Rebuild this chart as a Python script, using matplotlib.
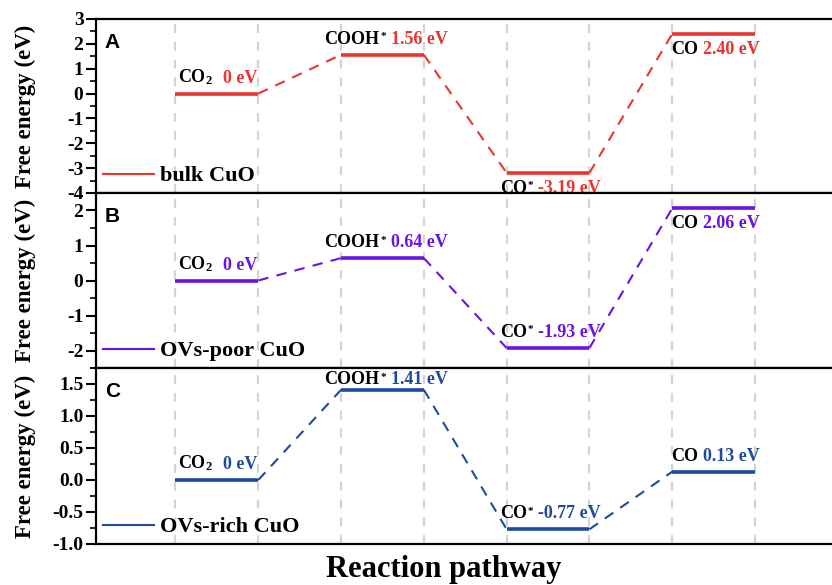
import numpy as np
import matplotlib
matplotlib.use("Agg")
import matplotlib.pyplot as plt
from matplotlib.ticker import AutoMinorLocator, FormatStrFormatter

plt.rcParams['font.family'] = ['Liberation Serif', 'DejaVu Serif']
plt.rcParams['font.weight'] = 'bold'
plt.rcParams['axes.unicode_minus'] = False
plt.rcParams['mathtext.fontset'] = 'custom'
plt.rcParams['mathtext.rm'] = 'Liberation Serif:bold'
plt.rcParams['mathtext.bf'] = 'Liberation Serif:bold'
plt.rcParams['mathtext.it'] = 'Liberation Serif:bold'
plt.rcParams['mathtext.default'] = 'rm'

# data
species = ['CO$_2$', 'COOH', 'CO', 'CO']
star = [False, True, True, False]
level_start = [1, 3, 5, 7]
energy_A = [0, 1.56, -3.19, 2.40]
energy_B = [0, 0.64, -1.93, 2.06]
energy_C = [0, 1.41, -0.77, 0.13]
value_txt_A = ['0 eV', '1.56 eV', '-3.19 eV', '2.40 eV']
value_txt_B = ['0 eV', '0.64 eV', '-1.93 eV', '2.06 eV']
value_txt_C = ['0 eV', '1.41 eV', '-0.77 eV', '0.13 eV']
names = ['bulk CuO', 'OVs-poor CuO', 'OVs-rich CuO']
letters = ['A', 'B', 'C']
colors = ['#e8352d', '#6a14e4', '#1d4c9c']
ylims = [(-4, 3), (-2.5, 2.5), (-1.0, 1.75)]
yticks = [np.arange(-4, 4, 1), np.arange(-2, 3, 1), np.arange(-1.0, 1.6, 0.5)]

# label placement (points): vertical offset, >0 above the level, <0 below
label_dy = [[5, 5, -5, -5], [5, 5, 5, -5], [5, 1, 5, 5]]
name_dx = [2, -12, -5, -1]
value_dx = [7, 3.5, 3.5, 3.5]

fig = plt.figure(figsize=(8.32, 5.85), dpi=100)
left = 96/832.
tops = [19, 193, 368]
bots = [193, 368, 544]

energies = [energy_A, energy_B, energy_C]
values = [value_txt_A, value_txt_B, value_txt_C]

for k in range(3):
    ax = fig.add_axes([left, 1-bots[k]/585., 1.0-left, (bots[k]-tops[k])/585.])
    c = colors[k]
    E = energies[k]
    for xs in level_start:
        for xv in (xs, xs+1):
            ax.axvline(xv, color='#d4d4d4', lw=1.6, ls=(0, (4, 4)), zorder=0)
    for i in range(4):
        ax.plot([level_start[i], level_start[i]+1], [E[i], E[i]], color=c, lw=2.6,
                solid_capstyle='butt', zorder=3)
        if i < 3:
            ax.plot([level_start[i]+1, level_start[i+1]], [E[i], E[i+1]], color=c,
                    lw=1.5, ls=(0, (5, 4)), zorder=2)
        dy = label_dy[k][i]
        va = 'bottom' if dy > 0 else 'top'
        t = ax.annotate(species[i], xy=(level_start[i], E[i]), xytext=(name_dx[i], dy),
                        textcoords='offset points', ha='left', va=va, fontsize=13,
                        color='black', fontweight='bold')
        right = t
        if star[i]:
            right = ax.annotate('*', xy=(1, 1), xycoords=t, xytext=(0.5, -1),
                                textcoords='offset points', ha='left', va='top',
                                fontsize=8, color='black', fontweight='bold')
        ax.annotate(values[k][i], xy=(1, 0), xycoords=(right, t), xytext=(value_dx[i], 0),
                    textcoords='offset points', ha='left', va='bottom', fontsize=13,
                    color=c, fontweight='bold')
    ax.plot([], [], color=c, lw=1.5, label=names[k])
    ax.legend(loc='lower left', frameon=False, fontsize=16, handlelength=2.3,
              handletextpad=0.3, borderaxespad=0.1, borderpad=0.2)
    ax.text(0.012, 0.92, letters[k], transform=ax.transAxes, fontsize=15,
            fontweight='bold', family='Liberation Sans', va='top', ha='left')
    ax.set_xlim(0.04, 8.93)
    ax.set_ylim(*ylims[k])
    ax.set_yticks(yticks[k])
    if k == 2:
        ax.yaxis.set_major_formatter(FormatStrFormatter('%.1f'))
    ax.yaxis.set_minor_locator(AutoMinorLocator(2))
    ax.tick_params(axis='y', which='major', direction='out', length=7, width=1.5,
                   labelsize=14, pad=2)
    ax.tick_params(axis='y', which='minor', direction='out', length=4, width=1.2)
    ax.set_xticks([])
    for s in ['top', 'bottom', 'left']:
        ax.spines[s].set_linewidth(1.6)
    ax.spines['right'].set_visible(False)
    ax.set_ylabel('Free energy (eV)', fontsize=16.5, fontweight='bold')
    ax.yaxis.set_label_coords(-0.082, 0.5)

fig.text(444/832., 1-570/585., 'Reaction pathway', ha='center', va='center',
         fontsize=22, fontweight='bold')

fig.savefig('out.png', dpi=100)
